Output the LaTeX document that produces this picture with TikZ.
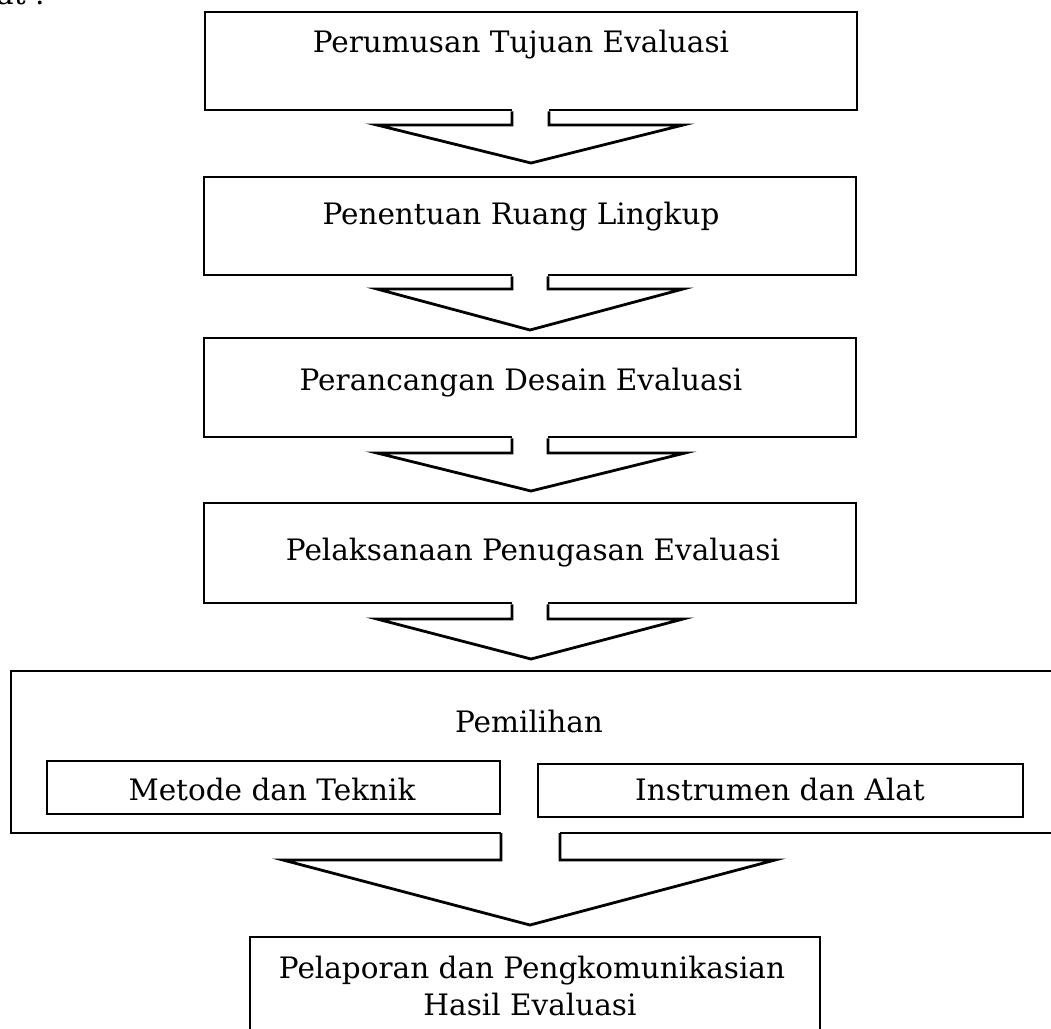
\documentclass[tikz,border=0pt]{standalone}
\usepackage{fontspec}
\setmainfont{DejaVu Serif}
\begin{document}
\begin{tikzpicture}[x=1pt,y=-1pt,
  line/.style={draw, line width=2.8pt, line join=miter},
  box/.style={line, inner sep=0pt},
  ghost/.style={inner sep=0pt, outer sep=0pt},
  lbl/.style={font=\fontsize{29.5}{35}\selectfont, inner sep=0pt, anchor=base},
  arr/.style={line, fill=white}]
\useasboundingbox (0,0) rectangle (1051,1028);
\newcommand\blockarr[8]{%
  \fill[white] (#2,0 |- #1.south) ++(0,-3) rectangle (#3,#4);
  \draw[arr] (#2,0 |- #1.south) -- (#2,#4) -- (#5,#4) -- (#7,#8) -- (#6,#4) -- (#3,#4) -- (#3,0 |- #1.south);
}
% cut-off heading fragment
\node[lbl, anchor=base west] (hd) at (-4,4) {at :};
% main boxes
\node[box, minimum width=652pt, minimum height=98pt] (b1) at (531,61) {};
\node[box, minimum width=652pt, minimum height=98pt] (b2) at (530,226) {};
\node[box, minimum width=652pt, minimum height=99pt] (b3) at (530,387.5) {};
\node[box, minimum width=652pt, minimum height=100pt] (b4) at (530,553) {};
\node[ghost, minimum width=1049pt, minimum height=162pt] (pm) at (535.5,752) {};
\draw[line] (pm.north east) -- (pm.north west) -- (pm.south west) -- (pm.south east);
\node[box, minimum width=453pt, minimum height=53pt] (mt) at (273.5,787.5) {};
\node[box, minimum width=485pt, minimum height=53pt] (ia) at (780.5,790.5) {};
\node[ghost, minimum width=570pt, minimum height=103pt] (pl) at (535,988.5) {};
\draw[line] (pl.south west) -- (pl.north west) -- (pl.north east) -- (pl.south east);
% labels
\node[lbl] (t1) at (521,52) {Perumusan Tujuan Evaluasi};
\node[lbl] (t2) at (521,224) {Penentuan Ruang Lingkup};
\node[lbl] (t3) at (521,390) {Perancangan Desain Evaluasi};
\node[lbl] (t4) at (533,560) {Pelaksanaan Penugasan Evaluasi};
\node[lbl] (t5) at (529,732) {Pemilihan};
\node[lbl] (t6) at (272,800) {Metode dan Teknik};
\node[lbl] (t7) at (780,800) {Instrumen dan Alat};
\node[lbl] (t8) at (532,978) {Pelaporan dan Pengkomunikasian};
\node[lbl] (t9) at (530,1015) {Hasil Evaluasi};
% block arrows
\blockarr{b1}{512}{549}{125}{377}{683}{531}{163}
\blockarr{b2}{512}{548}{289}{377}{683}{530}{330}
\blockarr{b3}{512}{548}{453}{377}{685}{531}{491}
\blockarr{b4}{512}{548}{619}{377}{683}{531}{659}
\blockarr{pm}{501}{560}{860}{283}{775}{530}{925}
\end{tikzpicture}
\end{document}
